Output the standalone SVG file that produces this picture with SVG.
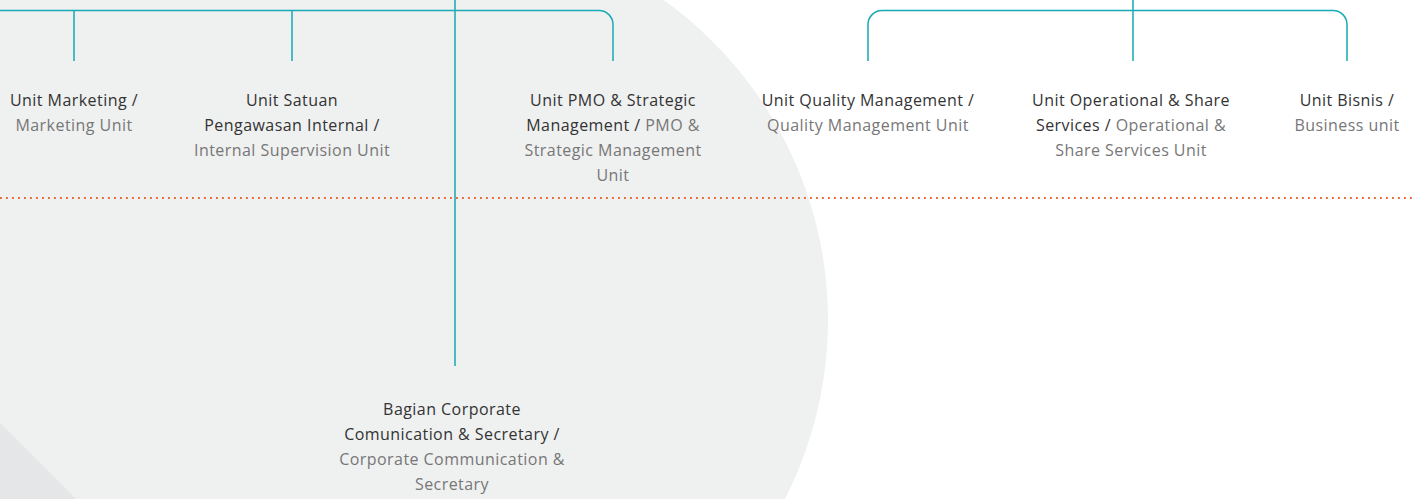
<svg xmlns="http://www.w3.org/2000/svg" width="1415" height="499" viewBox="0 0 1415 499">
<style>
.bg{fill:#eff0f0}
.conn{fill:none;stroke:#17a9b5;stroke-width:1.5}
.t{font-family:"Open Sans","Noto Sans",sans-serif;font-size:16px;letter-spacing:0.45px;text-anchor:middle;fill:#333}
.g{fill:#777}
</style>
<rect width="1415" height="499" fill="#ffffff"/>
<rect class="bg" x="0" y="0" width="434" height="499"/>
<circle class="bg" cx="434" cy="320" r="394"/>
<polygon points="0,423 76,499 0,499" fill="#e5e6e8"/>
<line x1="0" y1="198" x2="1415" y2="198" stroke="#f0602e" stroke-width="1.8" stroke-dasharray="1.8 4.2"/>
<g id="connectors">
<path class="conn" d="M0,10.5 H599 A14,14 0 0 1 613,24.5 V61"/>
<path class="conn" d="M74,10.5 V61"/>
<path class="conn" d="M292,10.5 V61"/>
<path class="conn" d="M455,0 V366" stroke-width="1.8"/>
<path class="conn" d="M868,61 V24.5 A14,14 0 0 1 882,10.5 H1333 A14,14 0 0 1 1347,24.5 V61"/>
<path class="conn" d="M1133,0 V61"/>
</g>
<g id="node-marketing">
<text class="t" x="74" y="106">Unit Marketing /</text>
<text class="t g" x="74" y="131">Marketing Unit</text>
</g>
<g id="node-spi">
<text class="t" x="292" y="106">Unit Satuan</text>
<text class="t" x="292" y="131">Pengawasan Internal /</text>
<text class="t g" x="292" y="156">Internal Supervision Unit</text>
</g>
<g id="node-pmo">
<text class="t" x="613" y="106">Unit PMO &amp; Strategic</text>
<text class="t" x="613" y="131">Management / <tspan class="g">PMO &amp;</tspan></text>
<text class="t g" x="613" y="156">Strategic Management</text>
<text class="t g" x="613" y="181">Unit</text>
</g>
<g id="node-quality">
<text class="t" x="868" y="106">Unit Quality Management /</text>
<text class="t g" x="868" y="131">Quality Management Unit</text>
</g>
<g id="node-operational">
<text class="t" x="1131" y="106">Unit Operational &amp; Share</text>
<text class="t" x="1131" y="131">Services / <tspan class="g">Operational &amp;</tspan></text>
<text class="t g" x="1131" y="156">Share Services Unit</text>
</g>
<g id="node-bisnis">
<text class="t" x="1347" y="106">Unit Bisnis /</text>
<text class="t g" x="1347" y="131">Business unit</text>
</g>
<g id="node-corporate">
<text class="t" x="452" y="415">Bagian Corporate</text>
<text class="t" x="452" y="440">Comunication &amp; Secretary /</text>
<text class="t g" x="452" y="465">Corporate Communication &amp;</text>
<text class="t g" x="452" y="490">Secretary</text>
</g>
</svg>
